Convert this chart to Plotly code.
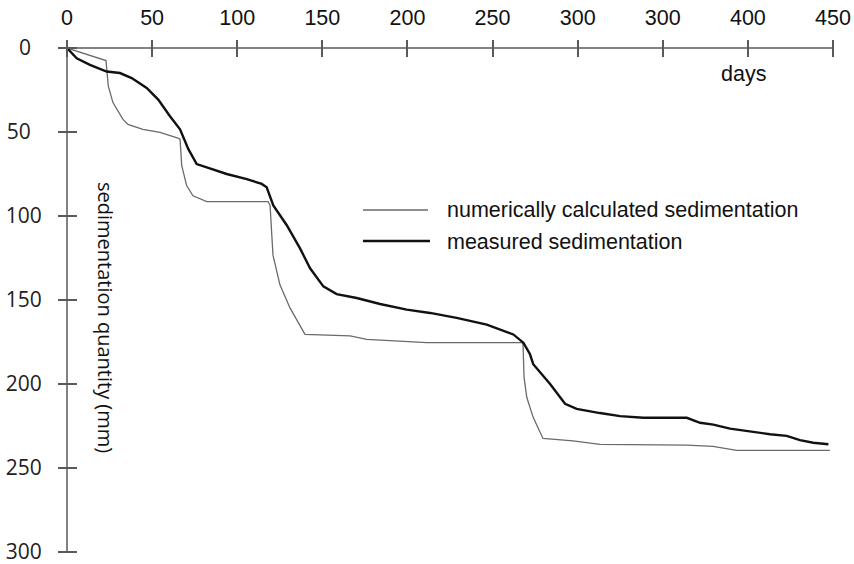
import plotly.graph_objects as go

# ---- data ----
calc_days = [0, 22.9, 24.3, 27.0, 32.9, 35.8, 44.6, 54.6, 65.2, 66.4, 67.4, 70.3, 74.0, 82.1,
             118.1, 119.3, 121.0, 125.1, 131.0, 139.8, 166.3, 176.1, 211.3, 238.5, 267.3,
             267.9, 268.5, 270.1, 273.8, 279.6, 297.3, 313.1, 364.1, 379.5, 393.4, 448.2]
calc_mm = [0, 7.5, 22.9, 32.5, 42.5, 45.5, 48.4, 50.2, 53.7, 54.3, 70.1, 81.9, 88.0, 91.4,
           91.4, 93.7, 123.3, 141.0, 154.7, 170.5, 171.4, 173.4, 175.4, 175.4, 175.4,
           176.4, 196.1, 207.9, 219.7, 232.4, 233.9, 235.9, 236.4, 237.1, 239.5, 239.5]

meas_days = [0, 5.7, 13.5, 23.3, 31.1, 38.0, 46.8, 53.6, 60.5, 66.4, 71.3, 76.2, 82.1, 93.8,
             105.6, 114.4, 117.3, 121.2, 129.1, 136.9, 142.8, 150.6, 158.4, 170.2, 183.9,
             199.6, 213.3, 228.9, 246.6, 262.2, 268.1, 272.0, 273.9, 283.8, 292.6, 299.4,
             313.1, 324.9, 338.6, 364.1, 371.9, 379.7, 389.5, 399.3, 413.0, 422.8, 430.6,
             438.4, 447.3]
meas_mm = [0, 6.1, 10.0, 14.0, 14.9, 17.9, 23.8, 30.7, 40.6, 48.4, 60.2, 69.1, 71.0, 75.0,
           78.0, 80.9, 82.9, 93.7, 105.5, 119.3, 131.1, 141.9, 146.5, 148.8, 152.4,
           155.7, 157.7, 160.6, 164.6, 170.5, 175.4, 182.3, 188.2, 200.0, 211.8, 214.8,
           217.3, 219.1, 220.1, 220.1, 223.1, 224.2, 226.6, 228.0, 229.9, 230.9, 233.4,
           235.0, 235.9]

x_tickvals = [0, 50, 100, 150, 200, 250, 300, 350, 400, 450]
x_ticktext = ["0", "50", "100", "150", "200", "250", "300", "300", "400", "450"]
y_tickvals = [0, 50, 100, 150, 200, 250, 300]
y_ticktext = ["0\u00a0\u00a0", "50\u00a0\u00a0", "100", "150", "200", "250", "300"]

calc_name = "numerically calculated sedimentation"
meas_name = "measured sedimentation"

CALC_COLOR = "#6a6a6a"
MEAS_COLOR = "#111111"
AXIS_COLOR = "#5a5a5a"

PLOT_W, PLOT_H = 766, 504

fig = go.Figure()
fig.add_trace(go.Scatter(x=calc_days, y=calc_mm, mode="lines", name=calc_name,
                         line=dict(color=CALC_COLOR, width=1.3), hoverinfo="skip"))
fig.add_trace(go.Scatter(x=meas_days, y=meas_mm, mode="lines", name=meas_name,
                         line=dict(color=MEAS_COLOR, width=2.4), hoverinfo="skip"))

xfont = dict(family="Liberation Sans, Arial, sans-serif", size=21.5, color="#111")
yfont = dict(family="Open Sans, Noto Sans, sans-serif", size=21, color="#222")

# ticks cross the axis lines (9-10 px on each side)
fig.update_layout(
    width=854, height=564,
    margin=dict(l=67, r=21, t=48, b=12),
    paper_bgcolor="white", plot_bgcolor="white",
    showlegend=False,
    xaxis=dict(range=[0, 450], side="top", anchor="free", position=1 - 9 / PLOT_H,
               showgrid=False, zeroline=False, showline=False, automargin=False,
               tickmode="array", tickvals=x_tickvals, ticktext=x_ticktext,
               ticks="outside", ticklen=17, tickwidth=1.5, tickcolor=AXIS_COLOR,
               tickfont=xfont, ticklabelstandoff=6, ticklabeloverflow="allow"),
    yaxis=dict(range=[300, 0], side="left", anchor="free", position=10 / PLOT_W,
               showgrid=False, zeroline=False, showline=False, automargin=False,
               tickmode="array", tickvals=y_tickvals, ticktext=y_ticktext,
               ticks="outside", ticklen=19, tickwidth=1.5, tickcolor=AXIS_COLOR,
               tickfont=yfont, ticklabelstandoff=12, ticklabeloverflow="allow"),
)

# axis lines (top x-axis, left y-axis)
fig.add_shape(type="line", xref="paper", yref="paper", x0=0, x1=1, y0=1, y1=1,
              line=dict(color=AXIS_COLOR, width=1.5), layer="above")
fig.add_shape(type="line", xref="paper", yref="paper", x0=0, x1=0, y0=0, y1=1,
              line=dict(color=AXIS_COLOR, width=1.5), layer="above")

# "days" axis title
fig.add_annotation(text="days", xref="paper", yref="paper", x=0.8838, y=0.9484,
                   showarrow=False, xanchor="center", yanchor="middle", font=xfont)
# y-axis title, rotated, inside the plot
fig.add_annotation(text="sedimentation quantity (mm)", xref="paper", yref="paper",
                   x=0.0496, y=0.4643, textangle=90, showarrow=False,
                   xanchor="center", yanchor="middle",
                   font=dict(family="Open Sans, Noto Sans, sans-serif", size=20, color="#111"))

# manual legend
fig.add_shape(type="line", xref="paper", yref="paper", x0=0.3864, x1=0.4713,
              y0=0.6786, y1=0.6786, line=dict(color=CALC_COLOR, width=1.3))
fig.add_shape(type="line", xref="paper", yref="paper", x0=0.3864, x1=0.4739,
              y0=0.6171, y1=0.6171, line=dict(color=MEAS_COLOR, width=2.6))
fig.add_annotation(text=calc_name, xref="paper", yref="paper", x=0.4935, y=0.6786,
                   showarrow=False, xanchor="left", yanchor="middle", font=xfont)
fig.add_annotation(text=meas_name, xref="paper", yref="paper", x=0.4935, y=0.6151,
                   showarrow=False, xanchor="left", yanchor="middle", font=xfont)

fig.write_html("out.html")
